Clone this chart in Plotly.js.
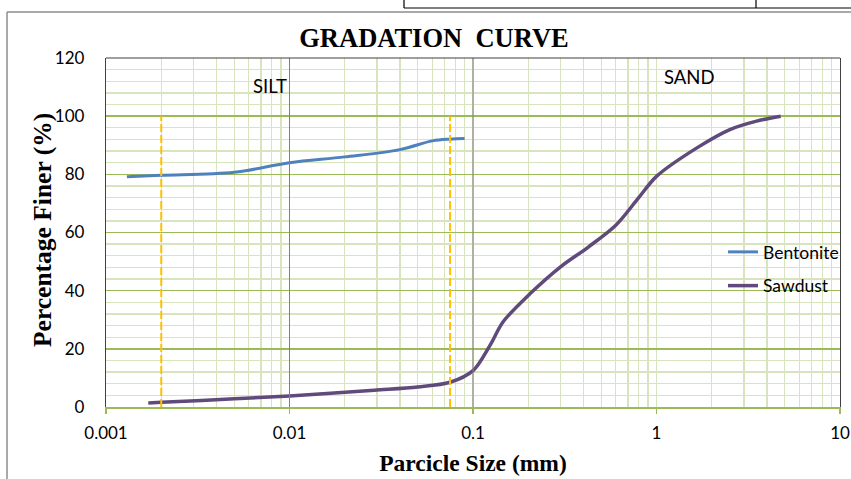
<!DOCTYPE html>
<html>
<head>
<meta charset="utf-8">
<script src="https://cdn.plot.ly/plotly-3.0.1.min.js"></script>
<style>html,body{margin:0;padding:0;background:#fff;}#chart{width:851px;height:479px;}</style>
</head>
<body>
<div id="chart"></div>
<script>
// ---- data ----
var bentoniteSize = [0.0013, 0.002, 0.005, 0.01, 0.02, 0.04, 0.06, 0.075, 0.09];
var bentoniteFiner = [79.2, 79.7, 80.7, 84.0, 86.0, 88.5, 91.5, 92.1, 92.3];
var sawdustSize = [0.0017, 0.002, 0.005, 0.01, 0.029, 0.05, 0.075, 0.1, 0.124, 0.146, 0.205, 0.3, 0.425, 0.6, 0.8, 1.0, 1.66, 2.51, 3.51, 4.75];
var sawdustFiner = [1.4, 1.6, 2.8, 3.8, 5.8, 6.9, 8.5, 12.5, 21.3, 29.3, 39.0, 48.2, 55.0, 62.5, 72.0, 79.3, 89.1, 95.4, 98.3, 100.0];
var xTickVals = [0.001, 0.01, 0.1, 1, 10];
var xTickText = ['0.001', '0.01', '0.1', '1', '10'];
var yTickVals = [0, 20, 40, 60, 80, 100, 120];
var boundarySizes = [0.01, 0.1];
var limitSizes = [0.002, 0.075];
var limitTop = 100;
var zoneLabels = ['SILT', 'SAND'];
var zoneX = [0.0078, 1.52];
var zoneY = [110.5, 113.5];

// minor log gridlines (2..9 in each decade)
var minorVals = [];
for (var d = 0; d < xTickVals.length - 1; d++) {
  for (var k = 2; k <= 9; k++) minorVals.push(xTickVals[d] * k);
}

var L = 106, R = 840, T = 58, B = 407; // plot area in px for paper conversions
function px(x) { return (x - L) / (R - L); }
function py(y) { return (B - y) / (B - T); }

var shapes = [];
boundarySizes.forEach(function (s) {
  shapes.push({type: 'line', xref: 'x', yref: 'y', x0: s, x1: s, y0: 0, y1: 120,
    line: {color: '#808080', width: 1}, layer: 'above'});
});
limitSizes.forEach(function (s) {
  shapes.push({type: 'line', xref: 'x', yref: 'y', x0: s, x1: s, y0: 0, y1: limitTop,
    line: {color: '#ffc000', width: 2, dash: '8px,3px'}, layer: 'above'});
});
// top border of plot area
shapes.push({type: 'line', xref: 'paper', yref: 'paper', x0: 0, x1: 1, y0: 1, y1: 1,
  line: {color: '#404040', width: 1.2}});
// outer frame (gray)
shapes.push({type: 'line', xref: 'paper', yref: 'paper', x0: px(7), x1: px(851), y0: py(12), y1: py(12),
  line: {color: '#8c8c8c', width: 1.5}});
shapes.push({type: 'line', xref: 'paper', yref: 'paper', x0: px(7), x1: px(7), y0: py(12), y1: py(479),
  line: {color: '#8c8c8c', width: 1.5}});
// table lines at top
shapes.push({type: 'line', xref: 'paper', yref: 'paper', x0: px(404), x1: px(851), y0: py(8), y1: py(8),
  line: {color: '#000', width: 1.2}});
shapes.push({type: 'line', xref: 'paper', yref: 'paper', x0: px(404), x1: px(404), y0: py(8), y1: py(0),
  line: {color: '#000', width: 1.2}});
shapes.push({type: 'line', xref: 'paper', yref: 'paper', x0: px(756), x1: px(756), y0: py(8), y1: py(0),
  line: {color: '#000', width: 1.2}});

var annotations = zoneLabels.map(function (t, i) {
  return {text: t, x: Math.log10(zoneX[i]), y: zoneY[i], xref: 'x', yref: 'y', showarrow: false,
    font: {family: 'Lato, Open Sans, sans-serif', size: 18.5, color: '#000'}};
});
// y axis title (placed as rotated annotation to match the original spacing)
annotations.push({text: 'Percentage Finer (%)', textangle: -90, xref: 'paper', yref: 'paper',
  x: px(42), y: py(230), xanchor: 'center', yanchor: 'middle', showarrow: false,
  font: {family: 'Liberation Serif, Times New Roman, serif', size: 25.5, color: '#000', weight: 700}});

var traces = [
  {x: bentoniteSize, y: bentoniteFiner, name: 'Bentonite', mode: 'lines', legendgroup: 'a',
    line: {color: '#4f81bd', width: 3, shape: 'spline', smoothing: 1}},
  {x: sawdustSize, y: sawdustFiner, name: 'Sawdust', mode: 'lines', legendgroup: 'b',
    line: {color: '#604a7b', width: 3.5, shape: 'spline', smoothing: 0.9}}
];

var layout = {
  width: 851, height: 479,
  margin: {l: L, r: 851 - R, t: T, b: 479 - B, autoexpand: false},
  paper_bgcolor: '#fff', plot_bgcolor: '#fff',
  title: {text: 'GRADATION\u00a0\u00a0CURVE', x: 434 / 851, xref: 'container', xanchor: 'center',
    y: 1 - 38 / 479, yref: 'container', yanchor: 'middle', automargin: false,
    font: {family: 'Liberation Serif, Times New Roman, serif', size: 26.5, color: '#000', weight: 700}},
  xaxis: {type: 'log', range: [-3, 1], tickmode: 'array', tickvals: xTickVals, ticktext: xTickText,
    automargin: false,
    ticks: 'outside', ticklen: 5, tickcolor: '#9bbb59', tickwidth: 1.5,
    showline: true, linecolor: '#9bbb59', linewidth: 1.5,
    showgrid: true, gridcolor: '#d7e4bd', gridwidth: 1.3, zeroline: false,
    minor: {tickmode: 'array', tickvals: minorVals, showgrid: true, gridcolor: '#d7e4bd', gridwidth: 1.3, ticks: ''},
    ticklabelstandoff: 5,
    tickfont: {family: 'Lato, Open Sans, sans-serif', size: 17, color: '#000'},
    title: {text: 'Parcicle Size (mm)', standoff: 12,
      font: {family: 'Liberation Serif, Times New Roman, serif', size: 23.5, color: '#000', weight: 700}}},
  yaxis: {range: [0, 120], tickmode: 'array', tickvals: yTickVals, ticks: '',
    automargin: false,
    showline: true, mirror: true, linecolor: '#404040', linewidth: 1.2,
    showgrid: true, gridcolor: '#9bbb59', gridwidth: 1.5, zeroline: false,
    minor: {dtick: 4, showgrid: true, gridcolor: '#d7e4bd', gridwidth: 1.3, ticks: ''},
    ticklabelstandoff: 17,
    tickfont: {family: 'Lato, Open Sans, sans-serif', size: 17, color: '#000'}},
  showlegend: true,
  legend: {x: px(723), y: py(234), xanchor: 'left', yanchor: 'top', bgcolor: 'rgba(0,0,0,0)',
    traceorder: 'grouped', tracegroupgap: 8,
    font: {family: 'Lato, Open Sans, sans-serif', size: 17.5, color: '#000'}},
  shapes: shapes,
  annotations: annotations
};

Plotly.newPlot('chart', traces, layout, {displayModeBar: false, staticPlot: true});
</script>
</body>
</html>
